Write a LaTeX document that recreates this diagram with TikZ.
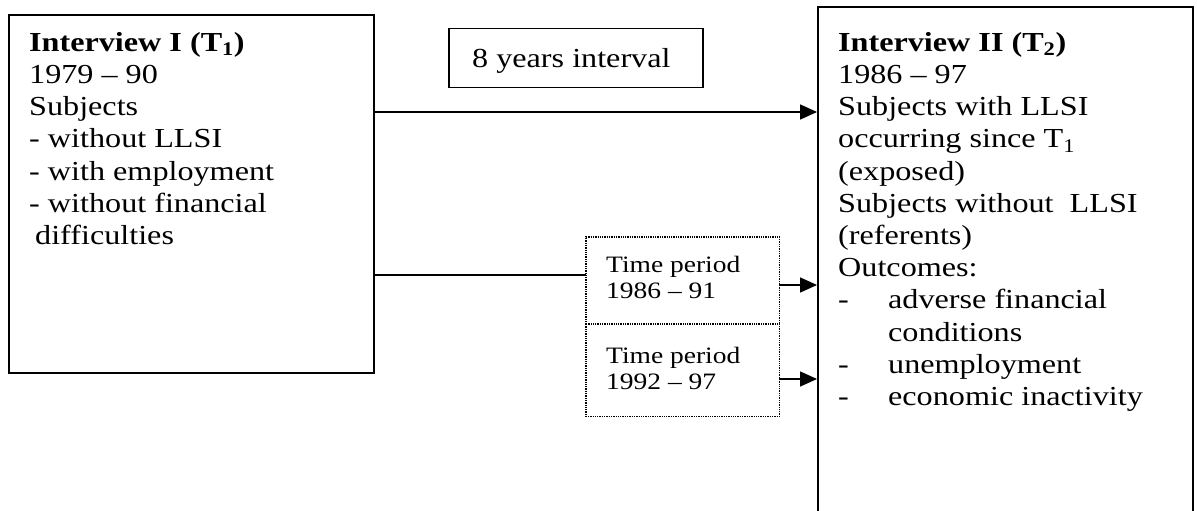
\documentclass[tikz,border=0pt]{standalone}
\usepackage{fontspec}
\setmainfont[FakeStretch=1.17]{Liberation Serif}
\usetikzlibrary{arrows.meta}
\begin{document}
\begin{tikzpicture}[x=1pt,y=-1pt,
  box/.style={draw,line width=1.8pt,inner sep=0pt,anchor=north west},
  shp/.style={inner sep=0pt,anchor=north west},
  dline/.style={densely dotted,line width=1.3pt},
  txt/.style={anchor=north west,inner sep=0pt,align=left,font=\fontsize{27.5}{32.2}\selectfont},
  stxt/.style={anchor=north west,inner sep=0pt,align=left,font=\fontsize{23.5}{25.5}\selectfont},
  conn/.style={line width=1.5pt},
  arr/.style={line width=1.5pt,-{Triangle[length=17pt,width=15pt]}}]
\useasboundingbox (0,0) rectangle (1197,511);
% boxes
\node[box,minimum width=365pt,minimum height=358pt] (L) at (8,14) {};
\node[box,minimum width=375pt,minimum height=540pt] (R) at (817,6) {};
\node[box,line width=1.5pt,minimum width=254pt,minimum height=59pt] (I) at (448,28) {};
\node[shp,minimum width=193pt,minimum height=87pt] (P1) at (586,237) {};
\node[shp,minimum width=193pt,minimum height=92pt] (P2) at (586,324) {};
\draw[dline] (P1.south west) -- (P1.north west) -- (P1.north east) -- (P1.south east);
\draw[dline] (P2.north west) rectangle (P2.south east);
% texts
\node[txt] (Lt) at (29,32) {\textbf{Interview I (T\textsubscript{1})}\\
1979 -- 90\\
Subjects\\
- without LLSI\\
- with employment\\
- without financial\\
\hspace*{6pt}difficulties};
\node[txt] (Rt) at (838,32) {\textbf{Interview II (T\textsubscript{2})}\\
1986 -- 97\\
Subjects with LLSI\\
occurring since T\textsubscript{1}\\
(exposed)\\
Subjects without\ \ LLSI\\
(referents)\\
Outcomes:\\
\makebox[50pt][l]{-}adverse financial\\
\hspace*{50pt}conditions\\
\makebox[50pt][l]{-}unemployment\\
\makebox[50pt][l]{-}economic inactivity};
\node[txt,anchor=base west] (It) at (472,68) {8 years interval};
\node[stxt] (P1t) at (606,256) {Time period\\1986 -- 91};
\node[stxt] (P2t) at (606,347) {Time period\\1992 -- 97};
% connectors
\draw[arr] (L.east |- 0,112) -- (R.west |- 0,112);
\draw[conn] (L.east |- 0,275) -- (P1.west |- 0,275);
\draw[arr] (P1.east |- 0,285) -- (R.west |- 0,285);
\draw[arr] (P2.east |- 0,379) -- (R.west |- 0,379);
\end{tikzpicture}
\end{document}
